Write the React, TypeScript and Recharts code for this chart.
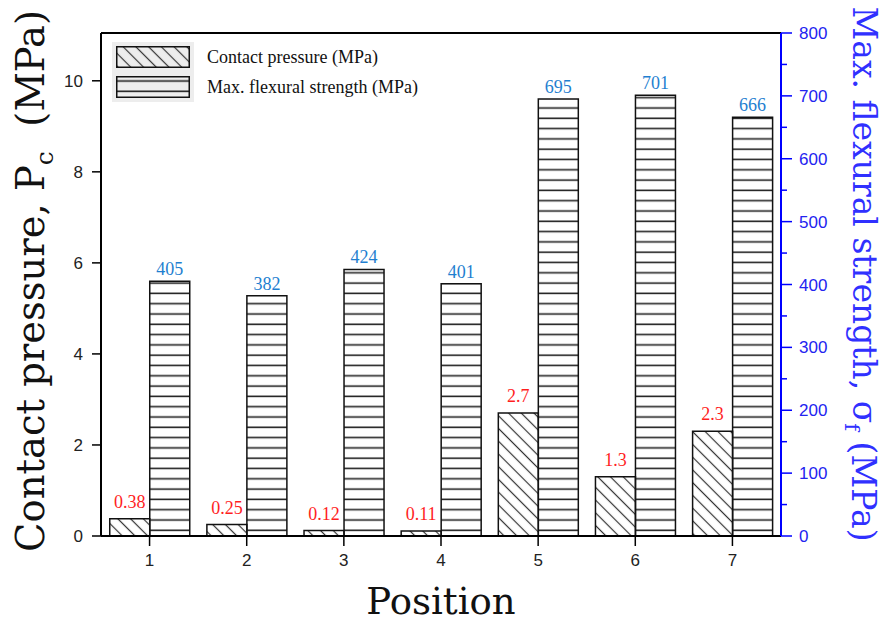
import React from 'react'
import {
  BarChart,
  Bar,
  XAxis,
  YAxis,
  Legend,
  LabelList,
  ReferenceLine,
} from 'recharts'

const positions = ['1', '2', '3', '4', '5', '6', '7']
const contactPressure = [0.38, 0.25, 0.12, 0.11, 2.7, 1.3, 2.3]
const flexuralStrength = [405, 382, 424, 401, 695, 701, 666]
const leftTicks = [0, 2, 4, 6, 8, 10]
const rightTicks = [0, 50, 100, 150, 200, 250, 300, 350, 400, 450, 500, 550, 600, 650, 700, 750, 800]

const data = positions.map((pos, i) => ({
  pos,
  pc: contactPressure[i],
  sf: flexuralStrength[i],
}))

const BLUE = '#0000ff'
const SANS = '"Liberation Sans", Arial, sans-serif'
const SERIF = '"Liberation Serif", "Times New Roman", serif'
const TITLE = '"DejaVu Serif", serif'

const Patterns = () => (
  <defs>
    <pattern id="diag" width="9" height="9" patternUnits="userSpaceOnUse" patternTransform="rotate(-45)">
      <line x1="4.5" y1="0" x2="4.5" y2="9" stroke="#333" strokeWidth="1.2" />
    </pattern>
    <pattern id="horiz" width="10" height="10.3" patternUnits="userSpaceOnUse">
      <line x1="0" y1="5" x2="10" y2="5" stroke="#222" strokeWidth="1.6" />
    </pattern>
  </defs>
)

const LeftTitle = () => {
  const cx = 30
  const cy = 281
  return (
    <text
      x={cx}
      y={cy}
      transform={`rotate(-90 ${cx} ${cy})`}
      textAnchor="middle"
      dominantBaseline="central"
      fontFamily={TITLE}
      fontSize={38.5}
      fill="#111"
    >
      Contact pressure, P
      <tspan baselineShift="sub" fontSize={25}>c</tspan>
      <tspan>{'\u00a0\u00a0(MPa)'}</tspan>
    </text>
  )
}

const RightTitle = () => {
  const cx = 864
  const cy = 274
  return (
    <text
      x={cx}
      y={cy}
      transform={`rotate(90 ${cx} ${cy})`}
      textAnchor="middle"
      dominantBaseline="central"
      fontFamily={TITLE}
      fontSize={33}
      fill="#3030ff"
    >
      Max. flexural strength, σ
      <tspan baselineShift="sub" fontSize={21}>f</tspan>
      <tspan>{'\u00a0(MPa)'}</tspan>
    </text>
  )
}

const BottomTitle = () => (
  <text x={441} y={614} textAnchor="middle" fontFamily={TITLE} fontSize={37} fill="#111">
    Position
  </text>
)

const RightTick = (props: any) => {
  const { x, y, payload } = props
  const major = payload.value % 100 === 0
  return (
    <g>
      <line x1={x} y1={y} x2={x + (major ? 11 : 6)} y2={y} stroke={BLUE} strokeWidth={1.5} />
      {major && (
        <text x={x + 18} y={y} dy="0.36em" fontFamily={SANS} fontSize={17} fill="#2323f0">
          {payload.value}
        </text>
      )}
    </g>
  )
}

const Swatch = ({ fill }: { fill: string }) => (
  <div style={{ background: '#ededed', padding: 4, display: 'inline-block', lineHeight: 0 }}>
    <svg width={74} height={22}>
      <Patterns />
      <rect x={0.75} y={0.75} width={72.5} height={20.5} fill={fill} stroke="#111" strokeWidth={1.5} />
    </svg>
  </div>
)

const LegendBox = () => (
  <div style={{ fontFamily: SERIF, fontSize: 18, color: '#111' }}>
    <div style={{ display: 'flex', alignItems: 'center' }}>
      <Swatch fill="url(#diag)" />
      <span style={{ marginLeft: 13 }}>Contact pressure (MPa)</span>
    </div>
    <div style={{ display: 'flex', alignItems: 'center' }}>
      <Swatch fill="url(#horiz)" />
      <span style={{ marginLeft: 13 }}>Max. flexural strength (MPa)</span>
    </div>
  </div>
)

export default function App() {
  return (
    <div style={{ position: 'absolute', left: 0, top: 0, width: 884, height: 623, background: '#fff' }}>
      <BarChart
        width={884}
        height={623}
        data={data}
        margin={{ top: 33, right: 0, bottom: 0, left: 0 }}
        barCategoryGap="9%"
        barGap={0}
      >
        <Patterns />
        <XAxis
          dataKey="pos"
          height={87}
          tickSize={10}
          tickMargin={8}
          axisLine={{ stroke: '#000', strokeWidth: 2 }}
          tickLine={{ stroke: '#000', strokeWidth: 1.5 }}
          tick={{ fontFamily: SANS, fontSize: 17, fill: '#222' }}
          label={<BottomTitle />}
        />
        <YAxis
          yAxisId="left"
          width={101}
          domain={[0, 11.05]}
          ticks={leftTicks}
          interval={0}
          tickSize={9}
          tickMargin={9}
          axisLine={{ stroke: '#000', strokeWidth: 2 }}
          tickLine={{ stroke: '#000', strokeWidth: 1.5 }}
          tick={{ fontFamily: SANS, fontSize: 17, fill: '#222' }}
          label={<LeftTitle />}
        />
        <YAxis
          yAxisId="right"
          orientation="right"
          width={103}
          domain={[0, 800]}
          ticks={rightTicks}
          interval={0}
          tickSize={0}
          tickMargin={0}
          tickLine={false}
          axisLine={{ stroke: BLUE, strokeWidth: 2 }}
          tick={<RightTick />}
          label={<RightTitle />}
        />
        <ReferenceLine yAxisId="left" y={11.05} stroke="#000" strokeWidth={2} />
        <Legend
          layout="vertical"
          align="center"
          verticalAlign="middle"
          wrapperStyle={{ left: 112, top: 42, width: 'auto' }}
          content={<LegendBox />}
        />
        <Bar
          yAxisId="left"
          dataKey="pc"
          fill="url(#diag)"
          stroke="#111"
          strokeWidth={1.5}
          isAnimationActive={false}
        >
          <LabelList
            dataKey="pc"
            position="top"
            offset={11}
            fill="#ff1e1e"
            fontFamily={SERIF}
            fontSize={18}
          />
        </Bar>
        <Bar
          yAxisId="right"
          dataKey="sf"
          fill="url(#horiz)"
          stroke="#111"
          strokeWidth={1.5}
          isAnimationActive={false}
        >
          <LabelList
            dataKey="sf"
            position="top"
            offset={6}
            fill="#1f7fd0"
            fontFamily={SERIF}
            fontSize={18}
          />
        </Bar>
      </BarChart>
    </div>
  )
}
